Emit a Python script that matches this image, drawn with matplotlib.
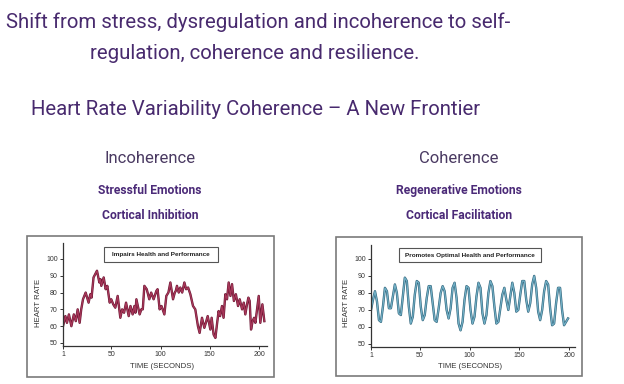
import matplotlib
matplotlib.use("Agg")
import matplotlib.pyplot as plt
from matplotlib.patches import Rectangle
import matplotlib.patheffects as pe

# ---------------- data ----------------
title_lines = ["Shift from stress, dysregulation and incoherence to self-",
               "regulation, coherence and resilience."]
subtitle = "Heart Rate Variability Coherence \u2013 A New Frontier"
panel_titles = ["Incoherence", "Coherence"]
panel_sub1 = ["Stressful Emotions", "Regenerative Emotions"]
panel_sub2 = ["Cortical Inhibition", "Cortical Facilitation"]
box_labels = ["Impairs Health and Performance", "Promotes Optimal Health and Performance"]
y_ticks = [50, 60, 70, 80, 90, 100]
x_ticks = [1, 50, 100, 150, 200]
x_label = "TIME (SECONDS)"
y_label = "HEART RATE"

incoh_t = [1, 3.4, 5, 7, 9.5, 12, 14, 15.9, 17.9, 19.5, 21.3, 24, 25.5, 27, 28.7, 30, 32,
           35.5, 37.9, 39, 39.9, 42.3, 44.3, 46, 48.4, 50, 52, 54.1, 56.5, 59.2, 61, 63, 65,
           67.7, 69.5, 71.7, 73.5, 74.5, 75.5, 78.8, 80.5, 82, 83.6, 86, 88.6, 90.5, 93, 95.8,
           97, 99.1, 101, 103.9, 105.9, 108, 110, 112.7, 114.5, 115.5, 116.7, 118.5, 120.1,
           122, 124.2, 126, 128, 130.3, 133, 135.3, 138, 139.7, 142.1, 144.5, 146, 147.9,
           150.6, 151.9, 153.9, 155.7, 157.5, 159, 160.5, 162.4, 164, 165.8, 167.5, 169.2,
           171, 172.6, 174.5, 176.5, 178.7, 180.4, 182.8, 184.5, 186.1, 187.5, 189.2, 190.5,
           191.9, 193.5, 195, 196.3, 199.7, 201.3, 203.4, 205.4]
incoh_hr = [60, 66, 62, 67, 60, 67, 63, 70, 62, 70, 76, 80, 77, 74, 79, 77, 89,
            93, 86, 88, 84, 89, 82, 84, 74, 76, 73, 71, 78, 65, 70, 68, 74,
            66, 72, 67, 72, 68, 76, 67, 70, 70, 84, 82, 76, 80, 76, 81,
            82, 70, 72, 67, 78, 80, 86, 76, 80, 81, 84, 80, 83,
            80, 86, 82, 83, 79, 72, 70, 60, 56, 65, 59, 62, 66,
            58, 65, 55, 53, 62, 69, 66, 72, 65, 79, 76, 86,
            78, 85, 75, 79, 72, 76, 70, 74, 67, 72, 77, 75,
            58, 63, 65, 62, 78, 62, 73, 63]

coh_t = list(range(1, 200, 2))
coh_hr = [70, 76, 81, 75, 64, 63, 72, 83, 81, 71,
          71, 78, 85, 80, 68, 67, 78, 89, 87, 72,
          62, 66, 79, 87, 86, 72, 64, 67, 77, 84,
          84, 74, 64, 63, 71, 80, 84, 81, 70, 65,
          71, 83, 86, 77, 62, 58, 63, 76, 84, 83,
          70, 62, 66, 78, 86, 83, 68, 62, 67, 80,
          87, 84, 72, 62, 63, 71, 79, 83, 76, 70,
          78, 86, 80, 69, 70, 79, 87, 87, 76, 69,
          74, 85, 90, 83, 69, 64, 70, 81, 87, 85,
          71, 61, 62, 74, 83, 83, 70, 61, 63, 65]

# ---------------- figure ----------------
W, H = 624, 384
fig = plt.figure(figsize=(W / 100, H / 100), dpi=100)
fig.patch.set_facecolor("white")

def fx(px):
    return px / W

def fy(py):
    return 1 - py / H

purple = "#482a6e"
purple_b = "#4b2a78"
title_font = dict(family="Roboto", fontweight="normal", color=purple)

fig.text(fx(258), fy(28), title_lines[0], ha="center", va="baseline", fontsize=14.7, **title_font)
fig.text(fx(255), fy(59), title_lines[1], ha="center", va="baseline", fontsize=14.7, **title_font)
fig.text(fx(256), fy(115), subtitle, ha="center", va="baseline", fontsize=14.7, **title_font)

centers = [150, 459]
for i in range(2):
    fig.text(fx(centers[i]), fy(163), panel_titles[i], ha="center", va="baseline",
             fontsize=12.0, family="Roboto", fontweight="normal", color="#4a3a62")
    fig.text(fx(centers[i]), fy(194), panel_sub1[i], ha="center", va="baseline",
             fontsize=8.7, family="Roboto", fontweight="bold", color=purple_b)
    fig.text(fx(centers[i]), fy(219), panel_sub2[i], ha="center", va="baseline",
             fontsize=8.7, family="Roboto", fontweight="bold", color=purple_b)

# outer frames
frames = [(27, 236, 274, 377), (336, 237, 582, 376)]
for (x0, y0, x1, y1) in frames:
    fig.patches.append(Rectangle((fx(x0), fy(y1)), fx(x1 - x0), (y1 - y0) / H,
                                 transform=fig.transFigure, fill=False,
                                 edgecolor="#7a7a7a", linewidth=1.2))

# axes specs: (left, right, top, bottom pixel), xlim, ylim
specs = [
    dict(px=(63, 267, 243, 346), xlim=(1, 208.1), ylim=(48.2, 109.5),
         t=incoh_t, v=incoh_hr, col="#a8385a", edge="#6a1632",
         box=(104, 247, 218, 262), label_x=39, xlab_c=162),
    dict(px=(371, 575, 245, 347), xlim=(1, 206), ylim=(48.2, 108.2),
         t=coh_t, v=coh_hr, col="#72b0c6", edge="#2e6178",
         box=(399, 248, 541, 262), label_x=346, xlab_c=470),
]

for i, s in enumerate(specs):
    l, r, t, b = s["px"]
    ax = fig.add_axes([fx(l), fy(b), fx(r - l), (b - t) / H])
    ax.set_facecolor("none")
    ax.plot(s["t"], s["v"], color=s["col"], linewidth=0.9, solid_joinstyle="round",
            path_effects=[pe.Stroke(linewidth=1.7, foreground=s["edge"]), pe.Normal()])
    ax.set_xlim(*s["xlim"])
    ax.set_ylim(*s["ylim"])
    ax.spines["top"].set_visible(False)
    ax.spines["right"].set_visible(False)
    for sp in ("left", "bottom"):
        ax.spines[sp].set_linewidth(0.9)
        ax.spines[sp].set_color("#333333")
    ax.set_xticks(x_ticks)
    ax.set_yticks(y_ticks)
    ax.tick_params(axis="both", length=2.5, width=0.7, pad=1.2, labelsize=5.0,
                   colors="#333333", direction="out")
    for lab in ax.get_xticklabels() + ax.get_yticklabels():
        lab.set_family("Liberation Sans")
    fig.text(fx(s["label_x"]), fy(303), y_label, rotation=90, ha="center", va="center",
             fontsize=5.6, family="Liberation Sans", color="#333333")
    fig.text(fx(s["xlab_c"]), fy(367), x_label, ha="center", va="center",
             fontsize=5.6, family="Liberation Sans", color="#333333")
    # title box
    bx0, by0, bx1, by1 = s["box"]
    fig.patches.append(Rectangle((fx(bx0), fy(by1)), fx(bx1 - bx0), (by1 - by0) / H,
                                 transform=fig.transFigure, facecolor="white",
                                 edgecolor="#555555", linewidth=0.8, zorder=5))
    fig.text(fx((bx0 + bx1) / 2), fy((by0 + by1) / 2), box_labels[i], ha="center",
             va="center", fontsize=4.6, family="Liberation Sans", fontweight="bold",
             color="#222222", zorder=6)

fig.savefig("out.png", dpi=100, facecolor="white")
